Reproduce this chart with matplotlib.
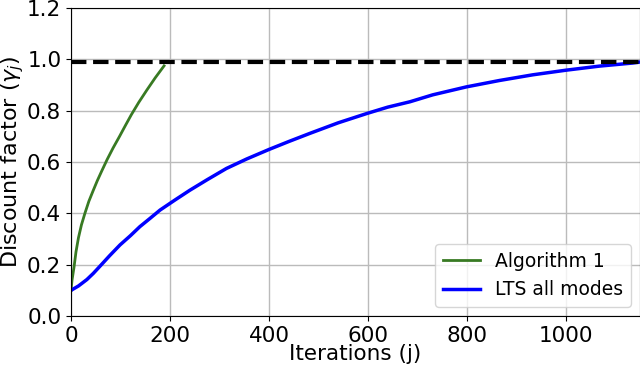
import matplotlib.pyplot as plt
import numpy as np

# Algorithm 1
alg_x = [0, 2, 6, 10, 15, 21, 28, 36, 45, 53, 62, 73, 85, 98, 110, 122, 137, 153, 170, 188]
alg_y = [0.10, 0.14, 0.19, 0.25, 0.305, 0.355, 0.40, 0.447, 0.49, 0.527, 0.565, 0.61,
         0.655, 0.70, 0.743, 0.785, 0.833, 0.88, 0.928, 0.975]

# LTS all modes
lts_x = [0, 15, 32, 45, 58, 78, 99, 120, 139, 160, 180, 210, 240, 275, 314, 355, 400,
         440, 483, 540, 599, 640, 685, 731, 799, 866, 933, 1000, 1068, 1135, 1150]
lts_y = [0.10, 0.117, 0.142, 0.166, 0.193, 0.235, 0.277, 0.313, 0.348, 0.381, 0.413,
         0.452, 0.49, 0.531, 0.575, 0.612, 0.649, 0.68, 0.712, 0.753, 0.79, 0.814,
         0.835, 0.862, 0.893, 0.918, 0.94, 0.958, 0.974, 0.986, 0.99]

target = 0.99

fig = plt.figure(figsize=(6.4, 3.7), dpi=100)
ax = fig.add_axes([0.111, 0.146, 0.889, 0.832])

ax.axhline(target, color='black', linestyle='--', linewidth=3, zorder=3)
ax.plot(alg_x, alg_y, color='#387a23', linewidth=2, label='Algorithm 1')
ax.plot(lts_x, lts_y, color='blue', linewidth=2.5, label='LTS all modes')

ax.set_xlim(0, 1150)
ax.set_ylim(0, 1.2)
ax.set_yticks(np.arange(0, 1.21, 0.2))
ax.set_xticks([0, 200, 400, 600, 800, 1000])
ax.tick_params(labelsize=15.5)
ax.grid(True, color='#bbbbbb', linewidth=1)
ax.set_axisbelow(True)
ax.set_xlabel('Iterations (j)', fontsize=15.5, labelpad=-1)
ax.set_ylabel(r'Discount factor ($\gamma_j$)', fontsize=16, labelpad=1)
ax.legend(loc='lower right', fontsize=13.5)

fig.savefig('out.png', dpi=100)
